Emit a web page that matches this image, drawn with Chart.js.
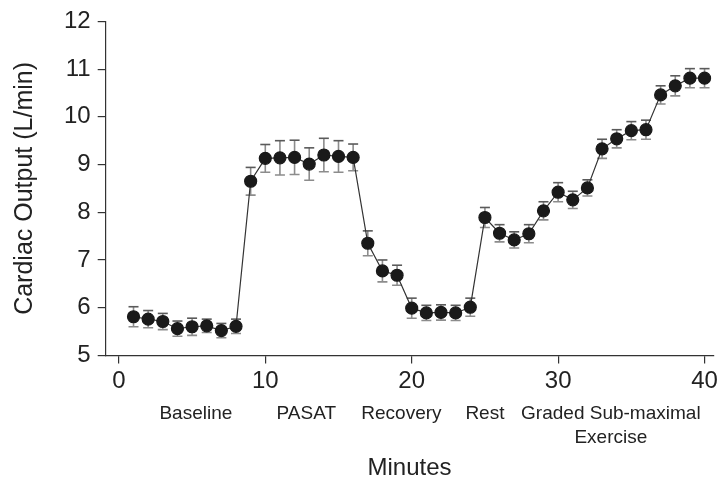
<!DOCTYPE html>
<html>
<head>
<meta charset="utf-8">
<script src="https://cdn.jsdelivr.net/npm/chart.js@4"></script>
<style>
  html, body { margin: 0; padding: 0; background: #fff; }
  #wrap { width: 722px; height: 483px; }
</style>
</head>
<body>
<div id="wrap"><canvas id="coChart"></canvas></div>
<script>
// cardiac output by minute
const minutes = [1,2,3,4,5,6,7,8,9,10,11,12,13,14,15,16,17,18,19,20,
                 21,22,23,24,25,26,27,28,29,30,31,32,33,34,35,36,37,38,39,40];
const cardiacOutput = [5.81,5.76,5.71,5.56,5.60,5.62,5.52,5.61,8.65,9.13,
                       9.14,9.15,9.01,9.20,9.17,9.15,7.35,6.77,6.68,5.99,
                       5.89,5.90,5.89,6.01,7.89,7.56,7.42,7.55,8.03,8.42,
                       8.26,8.51,9.33,9.54,9.71,9.73,10.46,10.65,10.81,10.81];
const errorSize = [0.21,0.18,0.17,0.16,0.18,0.14,0.15,0.15,0.29,0.29,
                   0.36,0.36,0.34,0.35,0.33,0.28,0.26,0.23,0.21,0.21,
                   0.16,0.16,0.16,0.19,0.21,0.18,0.17,0.19,0.19,0.20,
                   0.18,0.17,0.20,0.19,0.19,0.20,0.19,0.21,0.20,0.20];
const xTicks = [0, 10, 20, 30, 40];
const phaseLabels = ["Baseline", "PASAT", "Recovery", "Rest", ["Graded Sub-maximal", "Exercise"]];
const phaseCenters = [5.26, 12.8, 19.3, 25.0, 33.6];

const FONT = "'Liberation Sans', Arial, Helvetica, sans-serif";
const INK = "#222";

// vertical error bars with caps, drawn under the line
const errorBars = {
  id: "errorBars",
  beforeDatasetsDraw(chart) {
    const { ctx, scales: { x, y } } = chart;
    ctx.save();
    ctx.lineWidth = 1.6;
    minutes.forEach((m, i) => {
      const px = x.getPixelForValue(m);
      const top = y.getPixelForValue(cardiacOutput[i] + errorSize[i]);
      const bot = y.getPixelForValue(cardiacOutput[i] - errorSize[i]);
      ctx.strokeStyle = "#8c8c8c";
      ctx.beginPath();
      ctx.moveTo(px, top); ctx.lineTo(px, bot);
      ctx.moveTo(px - 5, bot); ctx.lineTo(px + 5, bot);
      ctx.stroke();
      ctx.strokeStyle = "#5a5a5a";
      ctx.beginPath();
      ctx.moveTo(px - 5, top); ctx.lineTo(px + 5, top);
      ctx.stroke();
    });
    ctx.restore();
  }
};

// phase names under the x tick labels
const phaseText = {
  id: "phaseText",
  afterDraw(chart) {
    const { ctx, chartArea, scales: { x } } = chart;
    ctx.save();
    ctx.fillStyle = INK;
    ctx.font = "19px " + FONT;
    ctx.textAlign = "center";
    ctx.textBaseline = "middle";
    phaseLabels.forEach((lab, i) => {
      const px = x.getPixelForValue(phaseCenters[i]);
      const lines = Array.isArray(lab) ? lab : [lab];
      lines.forEach((t, j) => {
        ctx.fillText(t, px, chartArea.bottom + 58 + j * 24);
      });
    });
    ctx.restore();
  }
};

new Chart(document.getElementById("coChart"), {
  type: "line",
  data: {
    labels: minutes,
    datasets: [{
      data: cardiacOutput.map((v, i) => ({ x: minutes[i], y: v })),
      borderColor: "#333",
      borderWidth: 1.2,
      backgroundColor: "#1a1a1a",
      pointBackgroundColor: "#1a1a1a",
      pointBorderColor: "#1a1a1a",
      pointRadius: 6,
      tension: 0,
      fill: false
    }]
  },
  options: {
    responsive: true,
    maintainAspectRatio: false,
    animation: false,
    events: [],
    layout: {
      padding: { top: 19, right: 2, bottom: 0, left: 10 }
    },
    plugins: {
      legend: { display: false },
      tooltip: { enabled: false }
    },
    scales: {
      x: {
        type: "linear",
        min: -0.9,
        max: 40.6,
        afterBuildTicks(scale) {
          scale.ticks = xTicks.map(v => ({ value: v }));
        },
        grid: { drawOnChartArea: false, tickLength: 8, color: "#333", lineWidth: 1.2 },
        border: { color: "#333", width: 1.2 },
        ticks: { color: INK, font: { family: FONT, size: 24 }, padding: 4, maxRotation: 0 },
        title: {
          display: true,
          text: "Minutes",
          color: INK,
          font: { family: FONT, size: 24 },
          padding: { top: 54, bottom: 0 }
        }
      },
      y: {
        min: 5,
        max: 12,
        ticks: { stepSize: 1, color: INK, font: { family: FONT, size: 24 }, padding: 7 },
        grid: { drawOnChartArea: false, tickLength: 8, color: "#333", lineWidth: 1.2 },
        border: { color: "#333", width: 1.2 },
        title: {
          display: true,
          text: "Cardiac Output (L/min)",
          color: INK,
          font: { family: FONT, size: 25 },
          padding: { top: 0, bottom: 17 }
        }
      }
    }
  },
  plugins: [errorBars, phaseText]
});
</script>
</body>
</html>
